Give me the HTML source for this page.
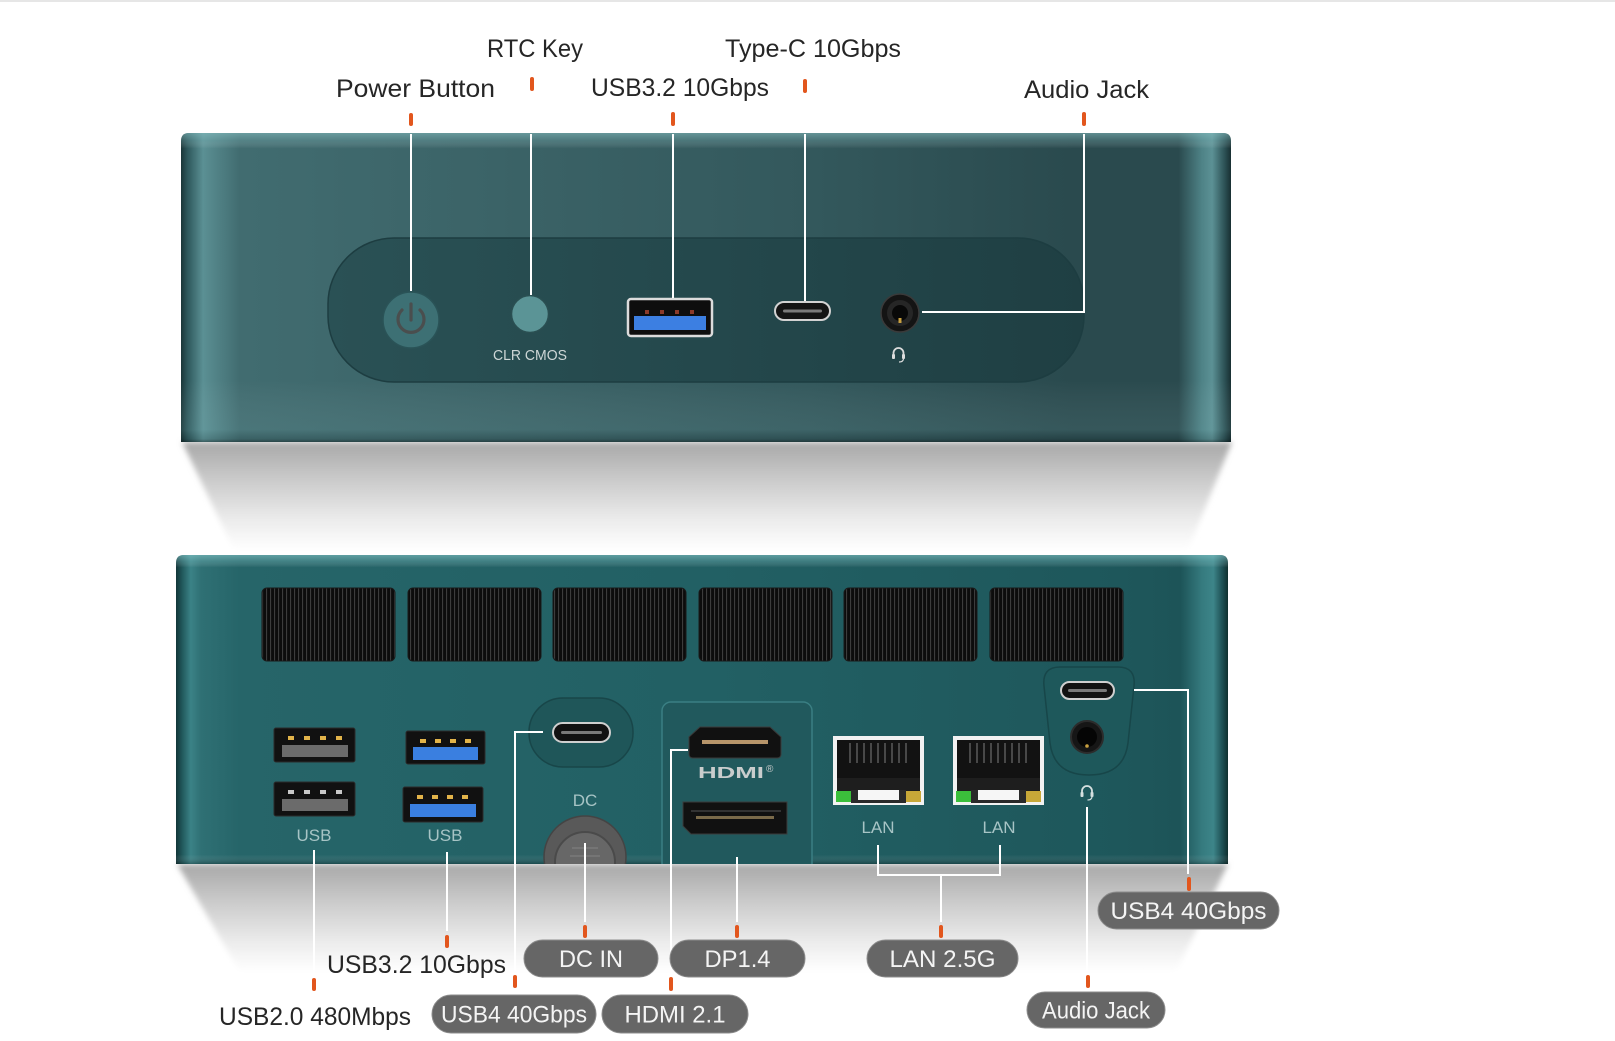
<!DOCTYPE html>
<html><head><meta charset="utf-8"><style>
html,body{margin:0;padding:0;background:#fff;}
svg{display:block;}
text{font-family:"Liberation Sans",Arial,sans-serif;}
</style></head><body>
<svg width="1615" height="1041" viewBox="0 0 1615 1041" xmlns="http://www.w3.org/2000/svg">
<defs>
  <linearGradient id="topH" x1="181" y1="0" x2="1231" y2="0" gradientUnits="userSpaceOnUse">
    <stop offset="0" stop-color="#1a3638"/>
    <stop offset="0.006" stop-color="#2d575b"/>
    <stop offset="0.021" stop-color="#5b9094"/>
    <stop offset="0.03" stop-color="#54868a"/>
    <stop offset="0.056" stop-color="#416c70"/>
    <stop offset="0.3" stop-color="#3b6367"/>
    <stop offset="0.6" stop-color="#33585c"/>
    <stop offset="0.85" stop-color="#2a4a4e"/>
    <stop offset="0.95" stop-color="#2a4a4e"/>
    <stop offset="0.972" stop-color="#4e8286"/>
    <stop offset="0.982" stop-color="#5c9195"/>
    <stop offset="0.994" stop-color="#2c5155"/>
    <stop offset="1" stop-color="#182f32"/>
  </linearGradient>
  <linearGradient id="topV" x1="0" y1="133" x2="0" y2="442" gradientUnits="userSpaceOnUse">
    <stop offset="0" stop-color="#8cc4c6" stop-opacity="0.55"/>
    <stop offset="0.025" stop-color="#8cc4c6" stop-opacity="0.25"/>
    <stop offset="0.05" stop-color="#ffffff" stop-opacity="0"/>
    <stop offset="0.8" stop-color="#ffffff" stop-opacity="0"/>
    <stop offset="0.96" stop-color="#9fd0d2" stop-opacity="0.1"/>
    <stop offset="0.99" stop-color="#000" stop-opacity="0.1"/>
    <stop offset="1" stop-color="#000" stop-opacity="0.35"/>
  </linearGradient>
  <linearGradient id="recessG" x1="328" y1="0" x2="1084" y2="0" gradientUnits="userSpaceOnUse">
    <stop offset="0" stop-color="#2a5155"/>
    <stop offset="0.5" stop-color="#24484c"/>
    <stop offset="1" stop-color="#1f3f43"/>
  </linearGradient>
  <linearGradient id="botH" x1="176" y1="0" x2="1228" y2="0" gradientUnits="userSpaceOnUse">
    <stop offset="0" stop-color="#123538"/>
    <stop offset="0.006" stop-color="#21595c"/>
    <stop offset="0.014" stop-color="#3b8286"/>
    <stop offset="0.024" stop-color="#2f7074"/>
    <stop offset="0.06" stop-color="#266569"/>
    <stop offset="0.5" stop-color="#226064"/>
    <stop offset="0.9" stop-color="#1e575b"/>
    <stop offset="0.955" stop-color="#1d5458"/>
    <stop offset="0.975" stop-color="#357a7e"/>
    <stop offset="0.986" stop-color="#3d8589"/>
    <stop offset="0.995" stop-color="#1d4e52"/>
    <stop offset="1" stop-color="#10302f"/>
  </linearGradient>
  <linearGradient id="botV" x1="0" y1="555" x2="0" y2="864" gradientUnits="userSpaceOnUse">
    <stop offset="0" stop-color="#8fd0d2" stop-opacity="0.55"/>
    <stop offset="0.022" stop-color="#8fd0d2" stop-opacity="0.25"/>
    <stop offset="0.04" stop-color="#ffffff" stop-opacity="0"/>
    <stop offset="0.97" stop-color="#ffffff" stop-opacity="0"/>
    <stop offset="1" stop-color="#000" stop-opacity="0.25"/>
  </linearGradient>
  <linearGradient id="shadG" x1="0" y1="0" x2="0" y2="1">
    <stop offset="0" stop-color="#a8a8a8"/>
    <stop offset="0.35" stop-color="#cbcbcb"/>
    <stop offset="0.75" stop-color="#eeeeee"/>
    <stop offset="1" stop-color="#ffffff"/>
  </linearGradient>
  <filter id="blur3" x="-5%" y="-20%" width="110%" height="140%"><feGaussianBlur stdDeviation="3"/></filter>
  <pattern id="vent" x="0" y="0" width="4" height="10" patternUnits="userSpaceOnUse">
    <rect width="4" height="10" fill="#0c0c0c"/>
    <rect x="2" width="1.1" height="10" fill="#3c3c3c"/>
  </pattern>
  <clipPath id="botClip"><rect x="176" y="555" width="1052" height="309"/></clipPath>
</defs>

<rect x="0" y="0" width="1615" height="1041" fill="#ffffff"/>
<rect x="0" y="0" width="1615" height="2" fill="#e6e6e6"/>

<!-- shadows -->
<polygon points="182,442 1232,442 1188,550 234,550" fill="url(#shadG)" filter="url(#blur3)"/>
<polygon points="177,864 1228,864 1176,972 240,972" fill="url(#shadG)" filter="url(#blur3)"/>

<!-- TOP BOX -->
<path d="M189,133 H1223 Q1231,133 1231,141 V442 H181 V141 Q181,133 189,133 Z" fill="url(#topH)"/>
<path d="M189,133 H1223 Q1231,133 1231,141 V442 H181 V141 Q181,133 189,133 Z" fill="url(#topV)"/>

<!-- recess -->
<rect x="328" y="238" width="756" height="144" rx="66" ry="66" fill="url(#recessG)" stroke="#1d3d41" stroke-width="1.5"/>

<!-- power button -->
<circle cx="411" cy="320" r="28" fill="#3d7074" stroke="#2a5357" stroke-width="1.5"/>
<path d="M402,310 A13,13 0 1 0 420,310" fill="none" stroke="#4a4e4e" stroke-width="3.2" stroke-linecap="round"/>
<line x1="411" y1="304" x2="411" y2="320" stroke="#4a4e4e" stroke-width="3.2" stroke-linecap="round"/>

<!-- CLR CMOS -->
<circle cx="530" cy="314" r="18.5" fill="#5b9496" stroke="#2a4f52" stroke-width="1.5"/>
<text x="530" y="360" font-size="14.5" fill="#cdd6d6" text-anchor="middle" textLength="74" lengthAdjust="spacingAndGlyphs">CLR CMOS</text>

<!-- USB-A top -->
<rect x="628" y="299" width="84" height="37" rx="3" fill="#0e0e0e" stroke="#dcdcdc" stroke-width="2.5"/>
<rect x="634" y="316" width="72" height="14" fill="#3c7fe2"/>
<rect x="645" y="310" width="4" height="4" fill="#8a3a2a"/>
<rect x="660" y="310" width="4" height="4" fill="#8a3a2a"/>
<rect x="675" y="310" width="4" height="4" fill="#8a3a2a"/>
<rect x="690" y="310" width="4" height="4" fill="#8a3a2a"/>

<!-- USB-C top -->
<rect x="775" y="302" width="55" height="18" rx="9" fill="#141414" stroke="#d2d2d2" stroke-width="2"/>
<rect x="783" y="309.5" width="39" height="3" rx="1.5" fill="#7a7a7a"/>

<!-- audio top -->
<circle cx="900" cy="313" r="19" fill="#141414" stroke="#3a3a3a" stroke-width="1.5"/>
<circle cx="900" cy="313" r="13" fill="#262626"/>
<circle cx="900" cy="313" r="8" fill="#080808"/>
<rect x="898.5" y="318" width="3" height="5" fill="#c9a040"/>
<path d="M893.5,357 V353 A5,5 0 0 1 903.5,353 V357" fill="none" stroke="#dcdcdc" stroke-width="1.8"/>
<rect x="892" y="354" width="3" height="5" rx="1" fill="#dcdcdc"/>
<rect x="902" y="354" width="3" height="5" rx="1" fill="#dcdcdc"/>
<path d="M903.5,359 Q903,362 899,362" fill="none" stroke="#dcdcdc" stroke-width="1.2"/>

<!-- top connector lines -->
<g stroke="#ffffff" stroke-width="2" fill="none">
  <line x1="411" y1="134" x2="411" y2="291"/>
  <line x1="531" y1="134" x2="531" y2="295"/>
  <line x1="673" y1="134" x2="673" y2="298"/>
  <line x1="805" y1="134" x2="805" y2="301"/>
  <polyline points="1084,134 1084,312 922,312"/>
</g>
<!-- top ticks -->
<g stroke="#e2561d" stroke-width="4" stroke-linecap="round">
  <line x1="411" y1="115" x2="411" y2="124"/>
  <line x1="532" y1="79" x2="532" y2="89"/>
  <line x1="673" y1="114" x2="673" y2="124"/>
  <line x1="805" y1="81" x2="805" y2="91"/>
  <line x1="1084" y1="114" x2="1084" y2="124"/>
</g>

<!-- top labels -->
<g fill="#262626" font-size="25" text-anchor="middle">
  <text x="535" y="57" textLength="96" lengthAdjust="spacingAndGlyphs">RTC Key</text>
  <text x="813" y="57" textLength="176" lengthAdjust="spacingAndGlyphs">Type-C 10Gbps</text>
  <text x="415.5" y="97" textLength="159" lengthAdjust="spacingAndGlyphs">Power Button</text>
  <text x="680" y="96" textLength="178" lengthAdjust="spacingAndGlyphs">USB3.2 10Gbps</text>
  <text x="1086.5" y="98" textLength="125" lengthAdjust="spacingAndGlyphs">Audio Jack</text>
</g>

<!-- BOTTOM BOX -->
<path d="M184,555 H1220 Q1228,555 1228,563 V864 H176 V563 Q176,555 184,555 Z" fill="url(#botH)"/>
<path d="M184,555 H1220 Q1228,555 1228,563 V864 H176 V563 Q176,555 184,555 Z" fill="url(#botV)"/>

<!-- vents -->
<g stroke="#1a1a1a" stroke-width="1">
  <rect x="262" y="588" width="133" height="73" rx="5" fill="url(#vent)"/>
  <rect x="408" y="588" width="133" height="73" rx="5" fill="url(#vent)"/>
  <rect x="553" y="588" width="133" height="73" rx="5" fill="url(#vent)"/>
  <rect x="699" y="588" width="133" height="73" rx="5" fill="url(#vent)"/>
  <rect x="844" y="588" width="133" height="73" rx="5" fill="url(#vent)"/>
  <rect x="990" y="588" width="133" height="73" rx="5" fill="url(#vent)"/>
</g>

<!-- USB2 ports -->
<g>
  <rect x="274" y="728" width="81" height="34" rx="2" fill="#111" stroke="#2b2b2b"/>
  <rect x="282" y="745" width="66" height="12" fill="#6b6b6b"/>
  <rect x="288" y="736" width="6" height="4" fill="#e2b44a"/>
  <rect x="304" y="736" width="6" height="4" fill="#e2b44a"/>
  <rect x="320" y="736" width="6" height="4" fill="#e2b44a"/>
  <rect x="336" y="736" width="6" height="4" fill="#e2b44a"/>
  <rect x="274" y="782" width="81" height="34" rx="2" fill="#111" stroke="#2b2b2b"/>
  <rect x="282" y="799" width="66" height="12" fill="#6b6b6b"/>
  <rect x="288" y="790" width="6" height="4" fill="#c9c9c9"/>
  <rect x="304" y="790" width="6" height="4" fill="#c9c9c9"/>
  <rect x="320" y="790" width="6" height="4" fill="#c9c9c9"/>
  <rect x="336" y="790" width="6" height="4" fill="#c9c9c9"/>
</g>
<!-- USB3 ports -->
<g>
  <rect x="406" y="731" width="79" height="33" rx="2" fill="#111" stroke="#2b2b2b"/>
  <rect x="413" y="747" width="65" height="13" fill="#3a7fe0"/>
  <rect x="420" y="739" width="6" height="4" fill="#e2b44a"/>
  <rect x="435" y="739" width="6" height="4" fill="#e2b44a"/>
  <rect x="450" y="739" width="6" height="4" fill="#e2b44a"/>
  <rect x="465" y="739" width="6" height="4" fill="#e2b44a"/>
  <rect x="403" y="787" width="80" height="35" rx="2" fill="#111" stroke="#2b2b2b"/>
  <rect x="410" y="804" width="66" height="13" fill="#3a7fe0"/>
  <rect x="417" y="795" width="6" height="4" fill="#e2b44a"/>
  <rect x="432" y="795" width="6" height="4" fill="#e2b44a"/>
  <rect x="447" y="795" width="6" height="4" fill="#e2b44a"/>
  <rect x="462" y="795" width="6" height="4" fill="#e2b44a"/>
</g>
<g fill="#a7c4c5" font-size="17" text-anchor="middle">
  <text x="314" y="841">USB</text>
  <text x="445" y="841">USB</text>
  <text x="585" y="806">DC</text>
  <text x="735" y="852">DP</text>
  <text x="878" y="833">LAN</text>
  <text x="999" y="833">LAN</text>
</g>

<!-- USB-C recess (DC side) -->
<rect x="529" y="698" width="104" height="69" rx="34" fill="#1f5659" stroke="#184649" stroke-width="1.5"/>
<rect x="553" y="723" width="57" height="19" rx="9.5" fill="#121212" stroke="#cfcfcf" stroke-width="2"/>
<rect x="561" y="731" width="41" height="3" rx="1.5" fill="#7a7a7a"/>

<!-- DC jack -->
<g clip-path="url(#botClip)">
  <circle cx="585" cy="857" r="41" fill="#595959" stroke="#444" stroke-width="1.5"/>
  <circle cx="585" cy="862" r="30" fill="#676767" stroke="#4a4a4a" stroke-width="2"/>
  <line x1="572" y1="848" x2="598" y2="848" stroke="#7a7a7a" stroke-width="1.5"/>
  <line x1="570" y1="856" x2="600" y2="856" stroke="#7a7a7a" stroke-width="1.5"/>
  <!-- HDMI/DP panel -->
  <rect x="662" y="702" width="150" height="180" rx="9" fill="#21595d" stroke="#3a7f83" stroke-width="1.5"/>
</g>

<!-- HDMI port -->
<path d="M700,727 H770 L781,737 V754 Q781,758 777,758 H693 Q689,758 689,754 V737 Z" fill="#111" stroke="#3a3a3a" stroke-width="1"/>
<rect x="702" y="740" width="66" height="4" fill="#b7956a"/>
<text x="731" y="778" font-size="16" font-weight="bold" fill="#c9cdcd" text-anchor="middle" textLength="66" lengthAdjust="spacingAndGlyphs">HDMI</text>
<text x="766" y="772" font-size="10" fill="#c9cdcd">®</text>
<!-- DP port -->
<path d="M683,802 H787 V834 H691 L683,826 Z" fill="#111" stroke="#3a3a3a" stroke-width="1"/>
<rect x="696" y="816" width="78" height="3" fill="#7a6a4a"/>
<rect x="691" y="810" width="90" height="2" fill="#333"/>

<!-- LAN ports -->
<g>
  <rect x="833" y="736" width="91" height="69" fill="#f2f2f2"/>
  <rect x="837" y="740" width="83" height="51" fill="#121212"/>
  <rect x="837" y="778" width="83" height="13" fill="#1e1e1e"/>
  <g stroke="#5a5a5a" stroke-width="1.5">
    <line x1="850" y1="743" x2="850" y2="763"/><line x1="857" y1="743" x2="857" y2="763"/>
    <line x1="864" y1="743" x2="864" y2="763"/><line x1="871" y1="743" x2="871" y2="763"/>
    <line x1="878" y1="743" x2="878" y2="763"/><line x1="885" y1="743" x2="885" y2="763"/>
    <line x1="892" y1="743" x2="892" y2="763"/><line x1="899" y1="743" x2="899" y2="763"/>
    <line x1="906" y1="743" x2="906" y2="763"/>
  </g>
  <rect x="851" y="790" width="55" height="13" fill="#2a2a2a"/>
  <rect x="858" y="790" width="41" height="10" fill="#f6f6f6"/>
  <rect x="836" y="791" width="15" height="11" fill="#3bbf3b"/>
  <rect x="906" y="791" width="15" height="11" fill="#c8a838"/>

  <rect x="953" y="736" width="91" height="69" fill="#f2f2f2"/>
  <rect x="957" y="740" width="83" height="51" fill="#121212"/>
  <rect x="957" y="778" width="83" height="13" fill="#1e1e1e"/>
  <g stroke="#5a5a5a" stroke-width="1.5">
    <line x1="970" y1="743" x2="970" y2="763"/><line x1="977" y1="743" x2="977" y2="763"/>
    <line x1="984" y1="743" x2="984" y2="763"/><line x1="991" y1="743" x2="991" y2="763"/>
    <line x1="998" y1="743" x2="998" y2="763"/><line x1="1005" y1="743" x2="1005" y2="763"/>
    <line x1="1012" y1="743" x2="1012" y2="763"/><line x1="1019" y1="743" x2="1019" y2="763"/>
    <line x1="1026" y1="743" x2="1026" y2="763"/>
  </g>
  <rect x="971" y="790" width="55" height="13" fill="#2a2a2a"/>
  <rect x="978" y="790" width="41" height="10" fill="#f6f6f6"/>
  <rect x="956" y="791" width="15" height="11" fill="#3bbf3b"/>
  <rect x="1026" y="791" width="15" height="11" fill="#c8a838"/>
</g>

<!-- right recess: USB4 + audio -->
<path d="M1060,667 H1118 Q1136,667 1134,686 L1128,743 Q1124,775 1089,775 Q1054,775 1050,743 L1044,686 Q1042,667 1060,667 Z" fill="#1e585b" stroke="#174649" stroke-width="1.5"/>
<rect x="1061" y="682" width="53" height="17" rx="8.5" fill="#121212" stroke="#cfcfcf" stroke-width="2"/>
<rect x="1068" y="689" width="39" height="3" rx="1.5" fill="#7a7a7a"/>
<circle cx="1087" cy="737" r="16" fill="#161616" stroke="#2c2c2c" stroke-width="2"/>
<circle cx="1087" cy="737" r="10" fill="#050505"/>
<circle cx="1087" cy="746" r="1.8" fill="#c9a040"/>
<path d="M1082,795 V791 A5,5 0 0 1 1092,791 V795" fill="none" stroke="#d6e0e0" stroke-width="1.8"/>
<rect x="1080.5" y="792" width="3" height="5" rx="1" fill="#d6e0e0"/>
<rect x="1090.5" y="792" width="3" height="5" rx="1" fill="#d6e0e0"/>
<path d="M1092,797 Q1091.5,800 1087.5,800" fill="none" stroke="#d6e0e0" stroke-width="1.2"/>

<!-- bottom connector lines -->
<g stroke="#ffffff" stroke-width="2" fill="none">
  <line x1="314" y1="850" x2="314" y2="973"/>
  <line x1="447" y1="852" x2="447" y2="931"/>
  <polyline points="543,732 515,732 515,971"/>
  <line x1="585" y1="843" x2="585" y2="922"/>
  <polyline points="688,750 671,750 671,973"/>
  <line x1="737" y1="857" x2="737" y2="922"/>
  <polyline points="878,845 878,875 1000,875 1000,845"/>
  <line x1="941" y1="875" x2="941" y2="922"/>
  <line x1="1087" y1="807" x2="1087" y2="971"/>
  <polyline points="1134,690 1188,690 1188,874"/>
</g>
<g stroke="#e2561d" stroke-width="4" stroke-linecap="round">
  <line x1="314" y1="980" x2="314" y2="989"/>
  <line x1="447" y1="937" x2="447" y2="946"/>
  <line x1="515" y1="977" x2="515" y2="986"/>
  <line x1="585" y1="927" x2="585" y2="936"/>
  <line x1="671" y1="979" x2="671" y2="989"/>
  <line x1="737" y1="927" x2="737" y2="936"/>
  <line x1="941" y1="927" x2="941" y2="936"/>
  <line x1="1088" y1="977" x2="1088" y2="986"/>
  <line x1="1189" y1="879" x2="1189" y2="889"/>
</g>

<!-- bottom plain labels -->
<g fill="#262626" font-size="25" text-anchor="middle">
  <text x="416.5" y="973" textLength="179" lengthAdjust="spacingAndGlyphs">USB3.2 10Gbps</text>
  <text x="315" y="1025" textLength="192" lengthAdjust="spacingAndGlyphs">USB2.0 480Mbps</text>
</g>

<!-- pills -->
<g fill="#666666" stroke="#8c8c8c" stroke-width="1">
  <rect x="524" y="940" width="134" height="37" rx="18.5"/>
  <rect x="670" y="940" width="135" height="37" rx="18.5"/>
  <rect x="867" y="940" width="151" height="37" rx="18.5"/>
  <rect x="432" y="995" width="164" height="38" rx="19"/>
  <rect x="602" y="995" width="146" height="38" rx="19"/>
  <rect x="1027" y="992" width="138" height="36" rx="18"/>
  <rect x="1098" y="892" width="181" height="37" rx="18.5"/>
</g>
<g fill="#f4f4f4" font-size="24" text-anchor="middle">
  <text x="591" y="967" textLength="64" lengthAdjust="spacingAndGlyphs">DC IN</text>
  <text x="737.5" y="967" textLength="66" lengthAdjust="spacingAndGlyphs">DP1.4</text>
  <text x="942.5" y="967" textLength="106" lengthAdjust="spacingAndGlyphs">LAN 2.5G</text>
  <text x="514" y="1022.5" textLength="146" lengthAdjust="spacingAndGlyphs">USB4 40Gbps</text>
  <text x="675" y="1022.5" textLength="101" lengthAdjust="spacingAndGlyphs">HDMI 2.1</text>
  <text x="1096" y="1018.5" textLength="108" lengthAdjust="spacingAndGlyphs">Audio Jack</text>
  <text x="1188.5" y="919" textLength="156" lengthAdjust="spacingAndGlyphs">USB4 40Gbps</text>
</g>
</svg>
</body></html>
